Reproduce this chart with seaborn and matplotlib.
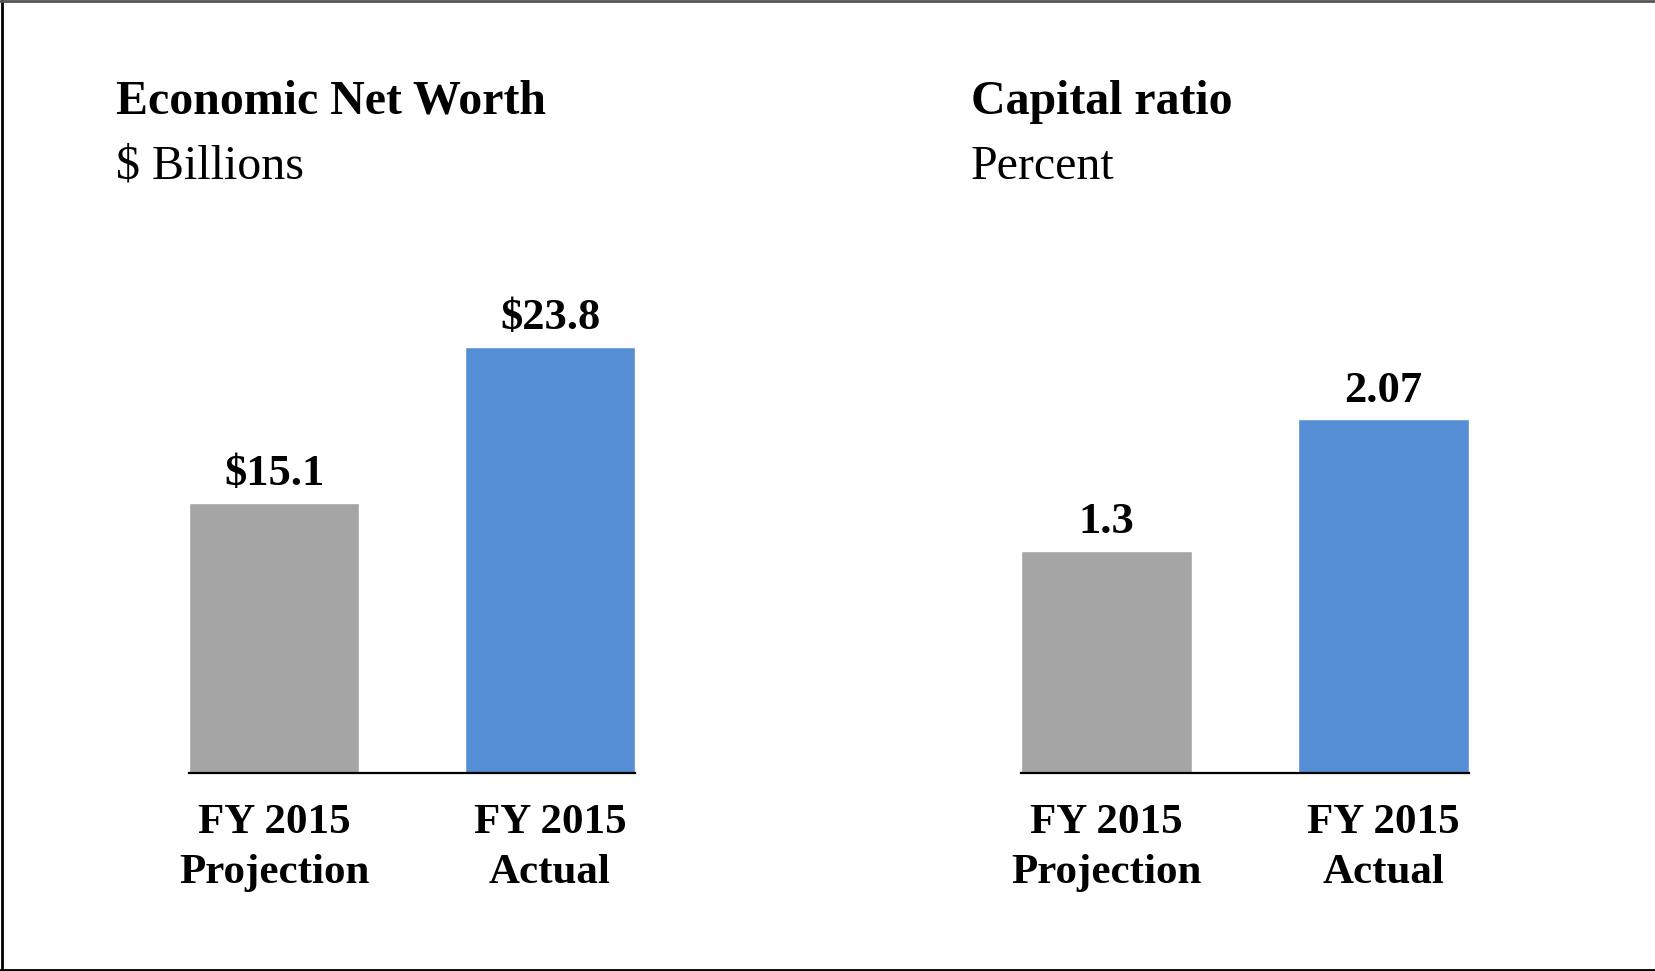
import matplotlib
matplotlib.use("Agg")
import matplotlib.pyplot as plt
import seaborn as sns
import pandas as pd
from matplotlib.lines import Line2D

# -------------------------------
# Data
# -------------------------------
categories = ["FY 2015\nProjection", "FY 2015\nActual"]
net_worth = [15.1, 23.8]
capital_ratio = [1.3, 2.07]
net_worth_labels = ["$15.1", "$23.8"]
capital_labels = ["1.3", "2.07"]
bar_colors = ["#A5A5A5", "#558ED5"]

sns.set_style("white")
plt.rcParams["font.family"] = ["Liberation Serif", "DejaVu Serif"]
plt.rcParams["text.color"] = "black"
plt.rcParams["xtick.color"] = "black"

fig = plt.figure(figsize=(16.55, 9.71), dpi=100)

ax1 = fig.add_axes([0.1142, 0.2039, 0.2695, 0.5386])
ax2 = fig.add_axes([0.6169, 0.2039, 0.2707, 0.5386])


def draw_panel(ax, values, labels, ymax):
    df = pd.DataFrame({"cat": categories, "val": values})
    sns.barplot(data=df, x="cat", y="val", hue="cat", palette=bar_colors,
                width=0.616, legend=False, ax=ax, saturation=1)
    for cont, lab in zip(ax.containers, labels):
        ax.bar_label(cont, labels=[lab], padding=6, fontsize=32,
                     fontweight="bold", color="black")
    ax.set_xlim(-0.308, 1.308)
    ax.set_ylim(0, ymax)
    ax.set_xlabel("")
    ax.set_ylabel("")
    ax.set_yticks([])
    for s in ["top", "right", "left"]:
        ax.spines[s].set_visible(False)
    ax.spines["bottom"].set_color("black")
    ax.spines["bottom"].set_linewidth(1.6)
    ax.tick_params(axis="x", length=0, pad=22)
    for t in ax.get_xticklabels():
        t.set_fontsize(31)
        t.set_fontweight("bold")
        t.set_color("black")
        t.set_linespacing(1.43)


draw_panel(ax1, net_worth, net_worth_labels, 29.2)
draw_panel(ax2, capital_ratio, capital_labels, 3.06)

# titles
fig.text(0.0701, 0.8826, "Economic Net Worth", fontsize=34.5, fontweight="bold", va="baseline")
fig.text(0.0701, 0.8157, "$ Billions", fontsize=34.5, va="baseline")
fig.text(0.5867, 0.8826, "Capital ratio", fontsize=34.5, fontweight="bold", va="baseline")
fig.text(0.5867, 0.8157, "Percent", fontsize=34.5, va="baseline")

# outer frame (left, top, bottom)
fig.add_artist(Line2D([0.001, 0.001], [0, 1], color="black", lw=2, transform=fig.transFigure))
fig.add_artist(Line2D([0, 1], [0.999, 0.999], color="#555555", lw=2, transform=fig.transFigure))
fig.add_artist(Line2D([0, 1], [0.001, 0.001], color="black", lw=2, transform=fig.transFigure))

fig.savefig("out.png", dpi=100)
